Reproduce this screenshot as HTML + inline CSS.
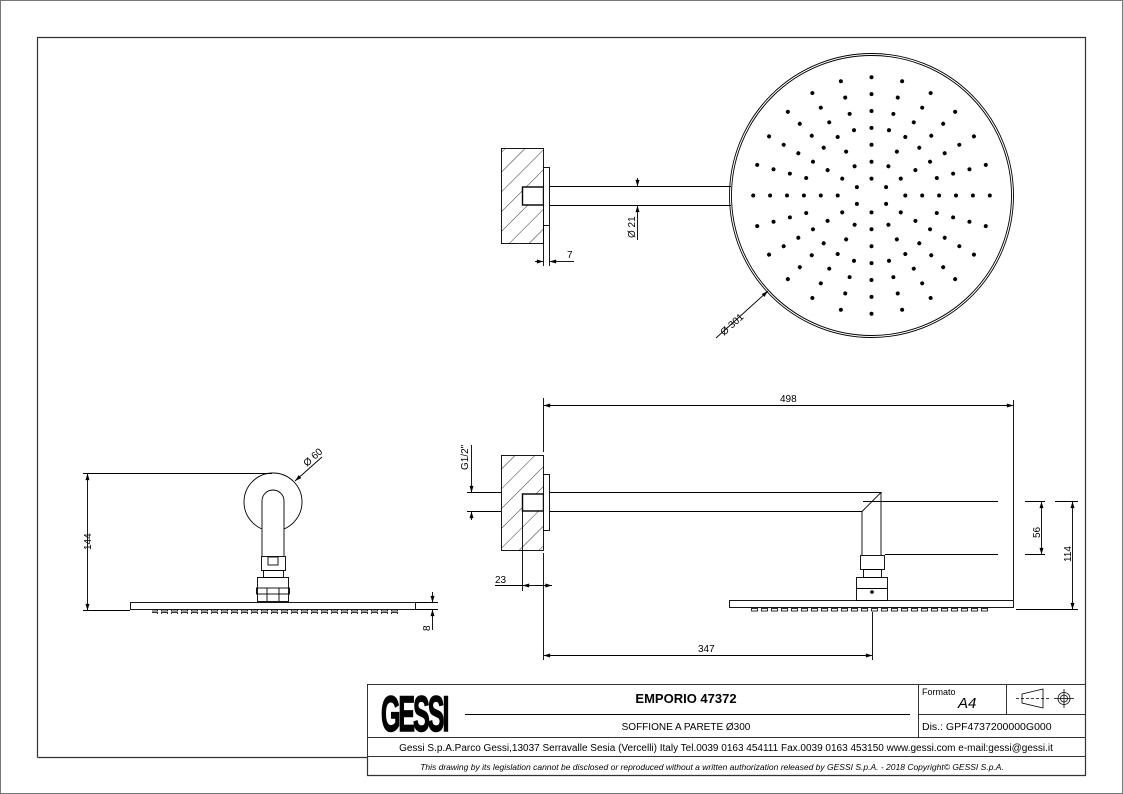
<!DOCTYPE html>
<html><head><meta charset="utf-8"><style>
html,body{margin:0;padding:0;background:#fff}
svg{display:block}
text{font-family:"Liberation Sans",Arial,sans-serif;fill:#000}
</style></head><body>
<svg width="1123" height="794" viewBox="0 0 1123 794" xmlns="http://www.w3.org/2000/svg" xmlns:xlink="http://www.w3.org/1999/xlink">
<defs>
<pattern id="h" patternUnits="userSpaceOnUse" width="14" height="14" patternTransform="rotate(45)">
<line x1="0" y1="0" x2="0" y2="14" stroke="#000" stroke-width="0.8"/>
</pattern>
<pattern id="nz" patternUnits="userSpaceOnUse" x="0" y="0" width="10" height="4">
<rect x="1.5" y="0.5" width="6" height="2.5" fill="none" stroke="#000" stroke-width="0.8"/>
</pattern>
<marker id="a" viewBox="0 0 10 6" refX="10" refY="3" markerWidth="8" markerHeight="4" orient="auto-start-reverse" markerUnits="userSpaceOnUse"><path d="M0,0 L10,3 L0,6z" fill="#000"/></marker>
<g id="sp6">
<circle cx="905.3" cy="195.5" r="2"/><circle cx="922.2" cy="195.5" r="2"/><circle cx="939.1" cy="195.5" r="2"/><circle cx="956" cy="195.5" r="2"/><circle cx="972.9" cy="195.5" r="2"/><circle cx="989.8" cy="195.5" r="2"/>
</g>
<g id="sp4">
<circle cx="939.1" cy="195.5" r="2"/><circle cx="956" cy="195.5" r="2"/><circle cx="972.9" cy="195.5" r="2"/><circle cx="989.8" cy="195.5" r="2"/>
</g>
</defs>
<rect x="0.5" y="0.5" width="1122" height="793" fill="#fff" stroke="#777"/>
<path d="M37.5,757.5 V37.5 H1085.5 V775.5 H367.5 V757.5 H37.5" fill="none" stroke="#333" stroke-width="1.2"/>

<!-- TITLE BLOCK -->
<g stroke="#333" stroke-width="1" fill="none">
<rect x="367.5" y="684.5" width="718" height="91"/>
<line x1="367.5" y1="737.5" x2="1085.5" y2="737.5"/>
<line x1="367.5" y1="756.5" x2="1085.5" y2="756.5"/>
<line x1="918.5" y1="684.5" x2="918.5" y2="737.5"/>
<line x1="1006.5" y1="684.5" x2="1006.5" y2="714.5"/>
<line x1="918.5" y1="714.5" x2="1085.5" y2="714.5"/>
<line x1="465" y1="714.5" x2="910" y2="714.5" stroke="#000"/>
</g>
<text x="381" y="731" font-size="50" font-weight="bold" stroke="#000" stroke-width="1.5" transform="translate(381 731) scale(0.5 1) translate(-381 -731)" letter-spacing="-4">GESSI</text>
<text x="686" y="703" font-size="13" font-weight="bold" text-anchor="middle">EMPORIO 47372</text>
<text x="686" y="730" font-size="10" text-anchor="middle">SOFFIONE A PARETE Ø300</text>
<text x="922" y="695" font-size="9">Formato</text>
<text x="958" y="708" font-size="15" font-style="italic">A4</text>
<text x="922" y="730" font-size="10.5">Dis.: GPF4737200000G000</text>
<text x="726" y="751" font-size="10" text-anchor="middle">Gessi S.p.A.Parco Gessi,13037 Serravalle Sesia (Vercelli) Italy Tel.0039 0163 454111 Fax.0039 0163 453150 www.gessi.com e-mail:gessi@gessi.it</text>
<text x="712" y="770" font-size="8.5" font-style="italic" text-anchor="middle">This drawing by its legislation cannot be disclosed or reproduced without a written authorization released by GESSI S.p.A. - 2018 Copyright© GESSI S.p.A.</text>
<g stroke="#000" stroke-width="0.8" fill="none">
<path d="M1022,694 L1043,689 V708 L1022,703 Z"/>
<line x1="1016" y1="698.5" x2="1049" y2="698.5" stroke-dasharray="3,2"/>
<circle cx="1064" cy="698.5" r="6"/><circle cx="1064" cy="698.5" r="3.5"/>
<line x1="1054" y1="698.5" x2="1074" y2="698.5"/><line x1="1064" y1="689" x2="1064" y2="708"/>
</g>

<!-- TOP VIEW -->
<g stroke="#000" stroke-width="0.9" fill="none">
<rect x="501.5" y="148.5" width="42" height="95" fill="url(#h)"/>
<rect x="522.5" y="187" width="21" height="18" fill="#fff" stroke-width="1.4"/>
<rect x="543.5" y="167.5" width="6" height="58" fill="#fff"/>
<line x1="550" y1="186.5" x2="731" y2="186.5"/>
<line x1="550" y1="205.5" x2="731" y2="205.5"/>
<circle cx="871.5" cy="195.5" r="142"/>
<circle cx="871.5" cy="195.5" r="140"/>
<line x1="543.5" y1="225" x2="543.5" y2="266"/>
<line x1="549.5" y1="225" x2="549.5" y2="266"/>
<line x1="535" y1="261.5" x2="543.5" y2="261.5" marker-end="url(#a)"/>
<line x1="558" y1="261.5" x2="549.5" y2="261.5" marker-end="url(#a)"/>
<line x1="558" y1="261.5" x2="574" y2="261.5"/>
<line x1="637.5" y1="178" x2="637.5" y2="186.5" marker-end="url(#a)"/>
<line x1="637.5" y1="240" x2="637.5" y2="205.5" marker-end="url(#a)"/>
<line x1="716" y1="338" x2="768" y2="291" marker-end="url(#a)"/>
</g>
<text x="567" y="258" font-size="10">7</text>
<text font-size="10" transform="translate(635 238) rotate(-90)">Ø 21</text>
<text font-size="10" transform="translate(724 336) rotate(-42)">Ø 301</text>
<g fill="#000">
<use xlink:href="#sp6" href="#sp6"/>
<use xlink:href="#sp4" href="#sp4" transform="rotate(-15 871.5 195.5)"/>
<use xlink:href="#sp6" href="#sp6" transform="rotate(-30 871.5 195.5)"/>
<use xlink:href="#sp4" href="#sp4" transform="rotate(-45 871.5 195.5)"/>
<use xlink:href="#sp6" href="#sp6" transform="rotate(-60 871.5 195.5)"/>
<use xlink:href="#sp4" href="#sp4" transform="rotate(-75 871.5 195.5)"/>
<use xlink:href="#sp6" href="#sp6" transform="rotate(-90 871.5 195.5)"/>
<use xlink:href="#sp4" href="#sp4" transform="rotate(-105 871.5 195.5)"/>
<use xlink:href="#sp6" href="#sp6" transform="rotate(-120 871.5 195.5)"/>
<use xlink:href="#sp4" href="#sp4" transform="rotate(-135 871.5 195.5)"/>
<use xlink:href="#sp6" href="#sp6" transform="rotate(-150 871.5 195.5)"/>
<use xlink:href="#sp4" href="#sp4" transform="rotate(-165 871.5 195.5)"/>
<use xlink:href="#sp6" href="#sp6" transform="rotate(-180 871.5 195.5)"/>
<use xlink:href="#sp4" href="#sp4" transform="rotate(-195 871.5 195.5)"/>
<use xlink:href="#sp6" href="#sp6" transform="rotate(-210 871.5 195.5)"/>
<use xlink:href="#sp4" href="#sp4" transform="rotate(-225 871.5 195.5)"/>
<use xlink:href="#sp6" href="#sp6" transform="rotate(-240 871.5 195.5)"/>
<use xlink:href="#sp4" href="#sp4" transform="rotate(-255 871.5 195.5)"/>
<use xlink:href="#sp6" href="#sp6" transform="rotate(-270 871.5 195.5)"/>
<use xlink:href="#sp4" href="#sp4" transform="rotate(-285 871.5 195.5)"/>
<use xlink:href="#sp6" href="#sp6" transform="rotate(-300 871.5 195.5)"/>
<use xlink:href="#sp4" href="#sp4" transform="rotate(-315 871.5 195.5)"/>
<use xlink:href="#sp6" href="#sp6" transform="rotate(-330 871.5 195.5)"/>
<use xlink:href="#sp4" href="#sp4" transform="rotate(-345 871.5 195.5)"/>
<circle cx="886.1" cy="187.1" r="2"/><circle cx="871.5" cy="178.6" r="2"/><circle cx="856.9" cy="187.1" r="2"/>
<circle cx="856.9" cy="203.9" r="2"/><circle cx="871.5" cy="212.4" r="2"/><circle cx="886.1" cy="203.9" r="2"/>
</g>

<!-- LEFT SIDE VIEW -->
<g stroke="#000" stroke-width="0.9" fill="none">
<line x1="83" y1="473.5" x2="272" y2="473.5"/>
<line x1="83" y1="610.5" x2="130" y2="610.5"/>
<line x1="87.5" y1="540" x2="87.5" y2="473.5" marker-end="url(#a)"/>
<line x1="87.5" y1="540" x2="87.5" y2="610.5" marker-end="url(#a)"/>
<circle cx="273" cy="502" r="29"/>
<path d="M262,556 V501 A11,11 0 0 1 284,501 V556" fill="#fff"/>
<rect x="261.5" y="556.5" width="24" height="14"/>
<rect x="268" y="557" width="10" height="8"/>
<rect x="263.5" y="570.5" width="20" height="7"/>
<rect x="257.5" y="577.5" width="31" height="24"/>
<rect x="256.5" y="588" width="33" height="6"/>
<line x1="267" y1="588" x2="267" y2="601"/><line x1="279" y1="588" x2="279" y2="601"/>
<rect x="130.5" y="602.5" width="285" height="7"/>
<line x1="415" y1="602.5" x2="438" y2="602.5"/>
<line x1="415" y1="609.5" x2="438" y2="609.5"/>
<line x1="432.5" y1="592" x2="432.5" y2="602.5" marker-end="url(#a)"/>
<line x1="432.5" y1="620" x2="432.5" y2="609.5" marker-end="url(#a)"/>
<line x1="432.5" y1="620" x2="432.5" y2="630"/>
<line x1="295" y1="481" x2="322" y2="457" marker-start="url(#a)"/>
</g>
<rect x="152" y="610" width="248" height="4" fill="url(#nz)"/>
<text font-size="10" transform="translate(91 550) rotate(-90)">144</text>
<text font-size="10" transform="translate(430 631) rotate(-90)">8</text>
<text font-size="10" transform="translate(307 467) rotate(-42)">Ø 60</text>

<!-- FRONT VIEW -->
<g stroke="#000" stroke-width="0.9" fill="none">
<line x1="543.5" y1="398" x2="543.5" y2="452"/>
<line x1="543.5" y1="553" x2="543.5" y2="660"/>
<rect x="501.5" y="455.5" width="42" height="95" fill="url(#h)"/>
<rect x="522.5" y="494" width="21" height="17" fill="#fff" stroke-width="1.4"/>
<rect x="543.5" y="474.5" width="6" height="56" fill="#fff"/>
<path d="M550,492.5 H881 L862,511.5 H550"/>
<path d="M881,492.5 V555 M862,511.5 V555"/>
<line x1="863" y1="501.5" x2="998" y2="501.5"/>
<line x1="885" y1="554.5" x2="998" y2="554.5"/>
<rect x="860.5" y="555.5" width="24" height="14"/>
<rect x="863.5" y="569.5" width="18" height="8"/>
<rect x="856.5" y="577.5" width="31" height="23"/>
<line x1="856.5" y1="588.5" x2="887.5" y2="588.5"/>
<rect x="729.5" y="600.5" width="284" height="7"/>
<line x1="1013.5" y1="400" x2="1013.5" y2="600"/>
<line x1="1016" y1="609.5" x2="1078" y2="609.5"/>
<line x1="600" y1="405.5" x2="543.5" y2="405.5" marker-end="url(#a)"/>
<line x1="600" y1="405.5" x2="1013.5" y2="405.5" marker-end="url(#a)"/>
<line x1="872.5" y1="612" x2="872.5" y2="660"/>
<line x1="700" y1="655.5" x2="543.5" y2="655.5" marker-end="url(#a)"/>
<line x1="700" y1="655.5" x2="872.5" y2="655.5" marker-end="url(#a)"/>
<line x1="1025" y1="501.5" x2="1045" y2="501.5"/>
<line x1="1025" y1="554.5" x2="1045" y2="554.5"/>
<line x1="1055" y1="501.5" x2="1078" y2="501.5"/>
<line x1="1041.5" y1="525" x2="1041.5" y2="501.5" marker-end="url(#a)"/>
<line x1="1041.5" y1="525" x2="1041.5" y2="554.5" marker-end="url(#a)"/>
<line x1="1072.5" y1="555" x2="1072.5" y2="501.5" marker-end="url(#a)"/>
<line x1="1072.5" y1="555" x2="1072.5" y2="609.5" marker-end="url(#a)"/>
<line x1="467" y1="492.5" x2="501" y2="492.5"/>
<line x1="467" y1="511.5" x2="501" y2="511.5"/>
<line x1="471.5" y1="445" x2="471.5" y2="492.5" marker-end="url(#a)"/>
<line x1="471.5" y1="520" x2="471.5" y2="511.5" marker-end="url(#a)"/>
<line x1="522.5" y1="511" x2="522.5" y2="591"/>
<line x1="535" y1="585.5" x2="522.5" y2="585.5" marker-end="url(#a)"/>
<line x1="535" y1="585.5" x2="552" y2="585.5" marker-end="url(#a)"/>
<line x1="495" y1="585.5" x2="522.5" y2="585.5"/>
</g>
<rect x="750" y="608" width="240" height="4" fill="url(#nz)"/>
<circle cx="872" cy="592" r="1.8" fill="#000"/>
<text x="780" y="402" font-size="10">498</text>
<text x="698" y="652" font-size="10">347</text>
<text x="495" y="583" font-size="10">23</text>
<text font-size="10" transform="translate(468 470) rotate(-90)">G1/2"</text>
<text font-size="10" transform="translate(1040 538) rotate(-90)">56</text>
<text font-size="10" transform="translate(1071 562) rotate(-90)">114</text>
</svg>
</body></html>
